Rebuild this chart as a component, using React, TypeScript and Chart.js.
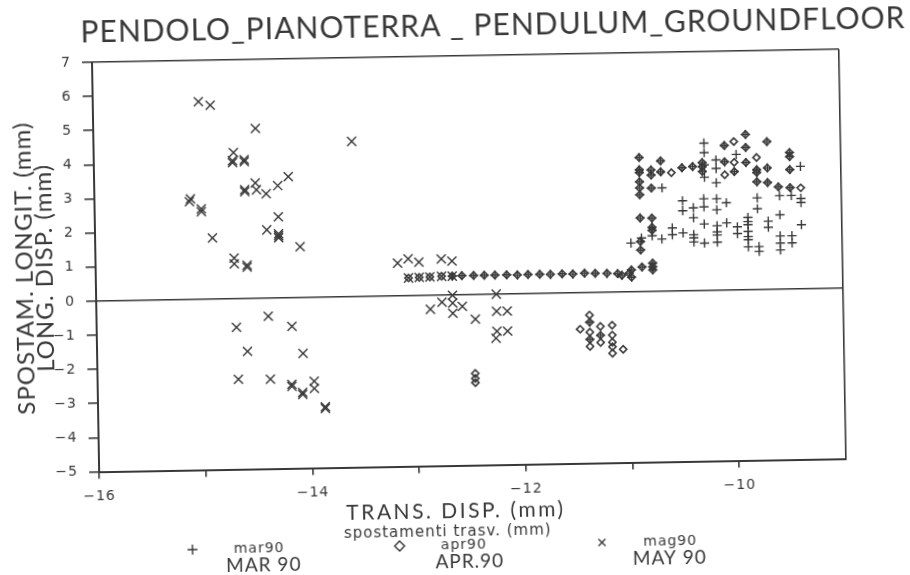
import { useEffect, useRef } from "react";
import { Chart, registerables } from "chart.js";

Chart.register(...registerables);

const titleText = "PENDOLO_PIANOTERRA _ PENDULUM_GROUNDFLOOR";
const yTitle = ["SPOSTAM. LONGIT. (mm)", "LONG. DISP. (mm)"];
const xPrinted = "spostamenti trasv. (mm)";
const xHand = "TRANS. DISP. (mm)";
const seriesNames = ["mar90", "apr90", "mag90"];
const handNames = ["MAR 90", "APR.90", "MAY 90"];

// [x, y] readings, longitudinal against transverse displacement
const rowX = [-13.07, -12.97, -12.87, -12.76, -12.66, -12.57, -12.46, -12.36, -12.26, -12.15, -12.05, -11.95, -11.84, -11.74, -11.63, -11.53, -11.42, -11.32, -11.21, -11.11, -11.0];
const rowY = [0.52, 0.53, 0.54, 0.55, 0.55, 0.56, 0.56, 0.56, 0.56, 0.56, 0.55, 0.56, 0.56, 0.55, 0.56, 0.55, 0.57, 0.56, 0.55, 0.54, 0.55];

const marLoose: number[][] = [
  [-10.98, 1.43], [-10.88, 1.57], [-10.78, 1.63], [-10.69, 1.53], [-10.68, 3.03], [-10.59, 1.85], [-10.59, 1.65],
  [-10.49, 1.7], [-10.49, 2.64], [-10.49, 2.35], [-10.39, 1.64], [-10.39, 1.55], [-10.39, 1.43], [-10.39, 2.43], [-10.39, 2.14],
  [-10.29, 2.69], [-10.29, 2.45], [-10.29, 1.39], [-10.29, 1.95], [-10.28, 4.32], [-10.28, 4.04], [-10.28, 3.68], [-10.28, 3.32],
  [-10.17, 3.82], [-10.17, 3.57], [-10.17, 3.15], [-10.17, 2.68], [-10.17, 2.36], [-10.17, 1.89], [-10.17, 1.71], [-10.17, 1.62], [-10.17, 1.41],
  [-10.08, 2.56], [-10.08, 1.97], [-9.98, 3.97], [-9.98, 1.85], [-9.98, 1.65],
  [-9.88, 2.12], [-9.88, 2.0], [-9.88, 1.91], [-9.88, 1.71], [-9.88, 1.56], [-9.88, 1.47], [-9.88, 1.26],
  [-9.79, 2.69], [-9.79, 2.37], [-9.78, 1.26], [-9.78, 1.12], [-9.69, 2.0], [-9.69, 1.82],
  [-9.58, 2.74], [-9.58, 2.18], [-9.58, 1.56], [-9.58, 1.35], [-9.58, 1.15], [-9.47, 2.74], [-9.47, 1.56], [-9.47, 1.35],
  [-9.38, 3.59], [-9.38, 2.65], [-9.38, 2.53], [-9.38, 1.88],
];
const shared: number[][] = [
  [-10.89, 3.93], [-10.89, 3.57], [-10.89, 3.49], [-10.89, 3.22], [-10.89, 3.04], [-10.89, 2.84], [-10.89, 2.16], [-10.89, 1.22], [-10.89, 1.47],
  [-10.78, 3.56], [-10.78, 3.41], [-10.78, 3.03], [-10.78, 2.15], [-10.78, 1.88], [-10.78, 1.79], [-10.69, 3.82], [-10.69, 3.5],
  [-10.49, 3.61], [-10.39, 3.64], [-10.3, 3.75], [-10.3, 3.63], [-10.3, 3.49], [-10.09, 4.24], [-10.09, 3.76],
  [-10.0, 3.47], [-9.89, 4.55], [-9.89, 4.17], [-9.89, 3.73], [-9.79, 3.51], [-9.79, 3.43], [-9.79, 3.16],
  [-9.69, 4.33], [-9.69, 3.56], [-9.69, 3.13], [-9.59, 3.0], [-9.48, 4.0], [-9.48, 3.88], [-9.48, 3.5], [-9.48, 2.97],
  [-11.07, 0.49], [-10.98, 0.64], [-10.98, 0.43], [-10.88, 0.72], [-10.78, 0.83], [-10.78, 0.72], [-10.78, 0.63],
  [-11.38, -0.87], [-11.38, -1.37], [-11.28, -1.26],
];
const aprOnly: number[][] = [
  [-10.59, 3.47], [-10.09, 3.38], [-10.0, 4.35], [-10.0, 3.74], [-9.79, 3.87], [-9.38, 2.96],
  [-12.46, -2.31], [-12.46, -2.46], [-12.46, -2.58],
  [-11.47, -1.07], [-11.38, -0.66], [-11.38, -1.16], [-11.38, -1.58], [-11.28, -1.0], [-11.28, -1.47],
  [-11.17, -0.97], [-11.17, -1.26], [-11.17, -1.47], [-11.17, -1.6], [-11.17, -1.79], [-11.07, -1.68],
];
const mayLoose: number[][] = [
  [-15.01, 5.79], [-14.9, 5.68], [-14.48, 4.98], [-13.58, 4.55], [-14.69, 4.28], [-14.7, 3.99], [-14.7, 4.05], [-14.59, 4.01], [-14.59, 4.07],
  [-14.59, 3.13], [-14.59, 3.19], [-14.49, 3.38], [-14.48, 3.18], [-14.39, 3.06], [-14.28, 3.29], [-14.18, 3.55],
  [-15.1, 2.95], [-15.11, 2.87], [-15.0, 2.65], [-15.0, 2.57], [-14.9, 1.79], [-14.28, 2.38], [-14.39, 2.0], [-14.28, 1.88], [-14.28, 1.76], [-14.28, 1.82],
  [-14.08, 1.49], [-14.7, 1.19], [-14.7, 1.02], [-14.58, 0.92], [-14.58, 0.98],
  [-13.17, 0.96], [-13.07, 1.08], [-12.97, 0.98], [-12.76, 1.06], [-12.66, 0.99],
  [-12.66, -0.01], [-12.76, -0.21], [-12.87, -0.41], [-12.66, -0.54], [-12.57, -0.34], [-12.45, -0.72], [-12.25, 0.0], [-12.25, -0.5], [-12.15, -0.5],
  [-12.26, -1.29], [-12.15, -1.09], [-12.25, -1.09], [-12.66, -0.24],
  [-14.69, -0.84], [-14.39, -0.53], [-14.17, -0.84], [-14.59, -1.55], [-14.07, -1.64], [-14.68, -2.36], [-14.38, -2.38],
  [-14.18, -2.6], [-14.18, -2.54], [-14.08, -2.84], [-14.08, -2.78], [-13.97, -2.46], [-13.97, -2.67], [-13.87, -3.21], [-13.87, -3.26],
];

const toPoints = (rows: number[][]) => rows.map(([x, y]) => ({ x, y }));
const row = rowX.map((x, i) => [x, rowY[i]]);
const marValues = [...marLoose, ...shared, ...row.slice(4)];
const aprValues = [...shared, ...aprOnly, ...row];
const mayValues = [...mayLoose, ...row.slice(0, 5)];

const INK = "#383838";
const TICK_FONT = "DejaVu Sans";
const HAND_FONT = "Lato";
const NB = "\u00a0";

const notes = {
  id: "handNotes",
  beforeDraw(chart: any) {
    chart.ctx.letterSpacing = "1px";
  },
  afterDraw(chart: any) {
    const { ctx } = chart;
    ctx.save();
    ctx.fillStyle = INK;
    ctx.textBaseline = "middle";
    ctx.textAlign = "center";
    ctx.letterSpacing = "2.5px";
    ctx.font = `400 21px ${HAND_FONT}`;
    ctx.fillText(xHand, 452, 511);
    ctx.letterSpacing = "1px";
    ctx.font = `400 19px ${HAND_FONT}`;
    const xs = [259, 465, 665];
    handNames.forEach((t, i) => ctx.fillText(t, xs[i], 562));
    ctx.restore();
  },
};

export default function App() {
  const ref = useRef<HTMLCanvasElement>(null);
  useEffect(() => {
    document.body.style.margin = "0";
    const chart = new Chart(ref.current as HTMLCanvasElement, {
      type: "scatter",
      data: {
        datasets: [
          { label: seriesNames[0], data: toPoints(marValues), pointStyle: "cross", pointRadius: 4.6, borderColor: INK, backgroundColor: INK, pointBorderWidth: 1.4 },
          { label: seriesNames[1], data: toPoints(aprValues), pointStyle: "rectRot", pointRadius: 3.6, borderColor: INK, backgroundColor: "rgba(0,0,0,0)", pointBorderWidth: 1.6 },
          { label: seriesNames[2], data: toPoints(mayValues), pointStyle: "crossRot", pointRadius: 6.4, borderColor: INK, backgroundColor: INK, pointBorderWidth: 1.4 },
        ],
      },
      options: {
        animation: false,
        responsive: false,
        layout: { padding: { right: 0, bottom: 13 } },
        plugins: {
          tooltip: { enabled: false },
          title: {
            display: true,
            align: "end",
            text: titleText,
            color: INK,
            font: { family: HAND_FONT, size: 30, weight: "400" as any },
            padding: { top: 8, bottom: 12 },
          },
          legend: {
            display: true,
            position: "bottom",
            labels: {
              usePointStyle: true,
              boxHeight: 7,
              padding: 10,
              color: INK,
              font: { family: TICK_FONT, size: 14 },
              generateLabels: (c: any) =>
                c.data.datasets.map((d: any, i: number) => ({
                  text: NB.repeat(5) + d.label + NB.repeat(i === 2 ? 23 : 18),
                  datasetIndex: i,
                  pointStyle: d.pointStyle,
                  strokeStyle: INK,
                  fillStyle: "rgba(0,0,0,0)",
                  lineWidth: 1.4,
                  fontColor: INK,
                })),
            },
          },
        },
        scales: {
          x: {
            type: "linear",
            min: -16,
            max: -9,
            afterFit: (s: any) => { s.height = 62.5; },
            afterBuildTicks: (s: any) => { s.ticks = [-16, -15, -14, -13, -12, -11, -10, -9].map((value) => ({ value })); },
            border: { color: INK, width: 2 },
            grid: {
              drawOnChartArea: true,
              color: (c: any) => (c.tick && c.tick.value === -9 ? INK : "rgba(0,0,0,0)"),
              tickColor: (c: any) => (c.tick && c.tick.value === -9 ? "rgba(0,0,0,0)" : INK),
              lineWidth: 1.6,
              tickLength: 7,
            },
            ticks: {
              autoSkip: false,
              maxRotation: 0,
              padding: 9,
              color: INK,
              font: { family: TICK_FONT, size: 14 },
              callback: (v: any) => (Number(v) % 2 === 0 ? "\u2212" + Math.abs(Number(v)) : ""),
            },
            title: {
              display: true,
              text: xPrinted + NB.repeat(9),
              color: INK,
              font: { family: TICK_FONT, size: 15 },
              padding: { top: 0, bottom: -13.5 },
            },
          },
          y: {
            type: "linear",
            min: -5,
            max: 7,
            afterFit: (s: any) => { s.width = 96; },
            border: { color: INK, width: 2 },
            grid: {
              color: (c: any) => (c.tick && (c.tick.value === 0 || c.tick.value === 7) ? INK : "rgba(0,0,0,0)"),
              tickColor: INK,
              lineWidth: 1.6,
              tickLength: 10,
            },
            ticks: {
              stepSize: 1,
              padding: 11,
              color: INK,
              font: { family: TICK_FONT, size: 14 },
              callback: (v: any) => (Number(v) < 0 ? "\u2212" + Math.abs(Number(v)) : String(v)),
            },
            title: {
              display: true,
              text: yTitle,
              color: INK,
              font: { family: HAND_FONT, size: 24, weight: "400" as any, lineHeight: 0.85 },
              padding: { top: 15, bottom: 0 },
            },
          },
          yr: {
            type: "linear",
            position: "right",
            min: -5,
            max: 7,
            afterFit: (s: any) => { s.width = 67; },
            ticks: { display: false },
            grid: { display: false },
            border: { display: false },
          },
        },
      },
      plugins: [notes],
    });
    return () => chart.destroy();
  }, []);
  return (
    <div style={{ position: "absolute", left: 0, top: 0, width: 910, height: 575, overflow: "hidden", background: "#fff" }}>
      <canvas
        ref={ref}
        width={910}
        height={575}
        style={{ display: "block", width: 910, height: 575, transform: "rotate(-1deg)", filter: "blur(0.35px)" }}
      />
    </div>
  );
}
